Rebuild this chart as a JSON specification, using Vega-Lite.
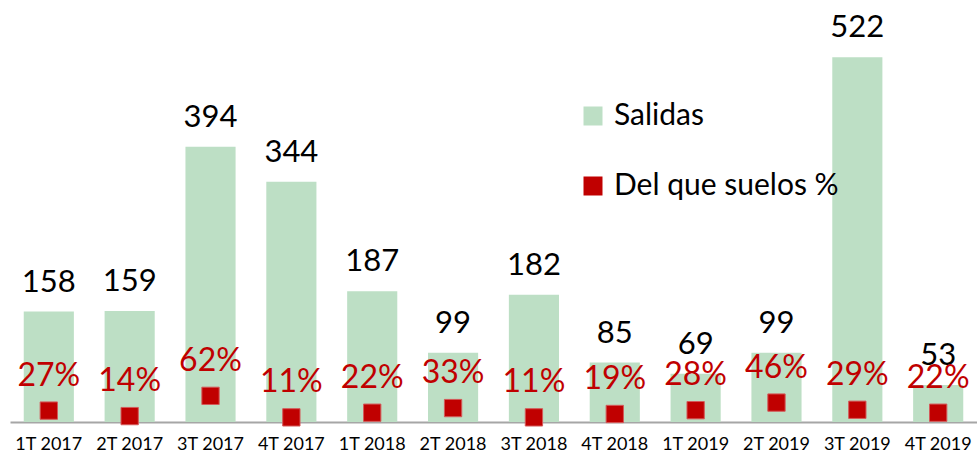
{
  "$schema": "https://vega.github.io/schema/vega-lite/v6.json",
  "width": 967,
  "height": 422,
  "autosize": {"type": "none"},
  "padding": {"left": 10, "top": 0, "right": 0, "bottom": 35},
  "background": "white",
  "config": {
    "view": {"stroke": null},
    "font": "Lato"
  },
  "data": {
    "values": [
      {"q": "1T 2017", "salidas": 158, "suelos": 0.27},
      {"q": "2T 2017", "salidas": 159, "suelos": 0.14},
      {"q": "3T 2017", "salidas": 394, "suelos": 0.62},
      {"q": "4T 2017", "salidas": 344, "suelos": 0.11},
      {"q": "1T 2018", "salidas": 187, "suelos": 0.22},
      {"q": "2T 2018", "salidas": 99, "suelos": 0.33},
      {"q": "3T 2018", "salidas": 182, "suelos": 0.11},
      {"q": "4T 2018", "salidas": 85, "suelos": 0.19},
      {"q": "1T 2019", "salidas": 69, "suelos": 0.28},
      {"q": "2T 2019", "salidas": 99, "suelos": 0.46},
      {"q": "3T 2019", "salidas": 522, "suelos": 0.29},
      {"q": "4T 2019", "salidas": 53, "suelos": 0.22}
    ]
  },
  "encoding": {
    "x": {
      "field": "q",
      "type": "nominal",
      "sort": null,
      "scale": {"paddingInner": 0.38, "paddingOuter": 0.17},
      "axis": {
        "title": null,
        "labelAngle": 0,
        "labelFont": "Lato",
        "labelFontSize": 18,
        "labelColor": "#000000",
        "labelPadding": 13,
        "ticks": false,
        "domainColor": "#a6a6a6",
        "domainWidth": 2,
        "grid": false
      }
    }
  },
  "layer": [
    {
      "layer": [
        {
          "mark": {"type": "bar"},
          "encoding": {
            "y": {"field": "salidas", "type": "quantitative", "scale": {"domain": [0, 604], "nice": false}, "axis": null},
            "color": {
              "datum": "Salidas",
              "type": "nominal",
              "scale": {"domain": ["Salidas", "Del que suelos %"], "range": ["#bddfc5", "#c00000"]},
              "legend": {
                "title": null,
                "orient": "none",
                "legendX": 568,
                "legendY": 101,
                "symbolType": "square",
                "symbolSize": 361,
                "symbolStrokeWidth": 0,
                "labelFont": "Lato",
                "labelFontSize": 30,
                "labelColor": "#000000",
                "labelOffset": 6,
                "rowPadding": 40,
                "labelLimit": 400
              }
            }
          }
        },
        {
          "mark": {"type": "text", "baseline": "alphabetic", "dy": -20, "fontSize": 31, "color": "#000000", "font": "Lato"},
          "encoding": {
            "y": {"field": "salidas", "type": "quantitative", "scale": {"domain": [0, 604], "nice": false}, "axis": null},
            "text": {"field": "salidas", "type": "quantitative"}
          }
        }
      ]
    },
    {
      "layer": [
        {
          "mark": {"type": "point", "shape": "square", "filled": true, "size": 300, "opacity": 1, "stroke": "#d45a5a", "strokeWidth": 1},
          "encoding": {
            "y": {"field": "suelos", "type": "quantitative", "scale": {"domain": [0, 10], "nice": false}, "axis": null},
            "color": {"datum": "Del que suelos %", "type": "nominal"}
          }
        },
        {
          "mark": {"type": "text", "baseline": "alphabetic", "dy": -25, "fontSize": 32, "color": "#c00000", "font": "Lato"},
          "encoding": {
            "y": {"field": "suelos", "type": "quantitative", "scale": {"domain": [0, 10], "nice": false}, "axis": null},
            "text": {"field": "suelos", "type": "quantitative", "format": ".0%"}
          }
        }
      ]
    }
  ],
  "resolve": {"scale": {"y": "independent"}}
}
